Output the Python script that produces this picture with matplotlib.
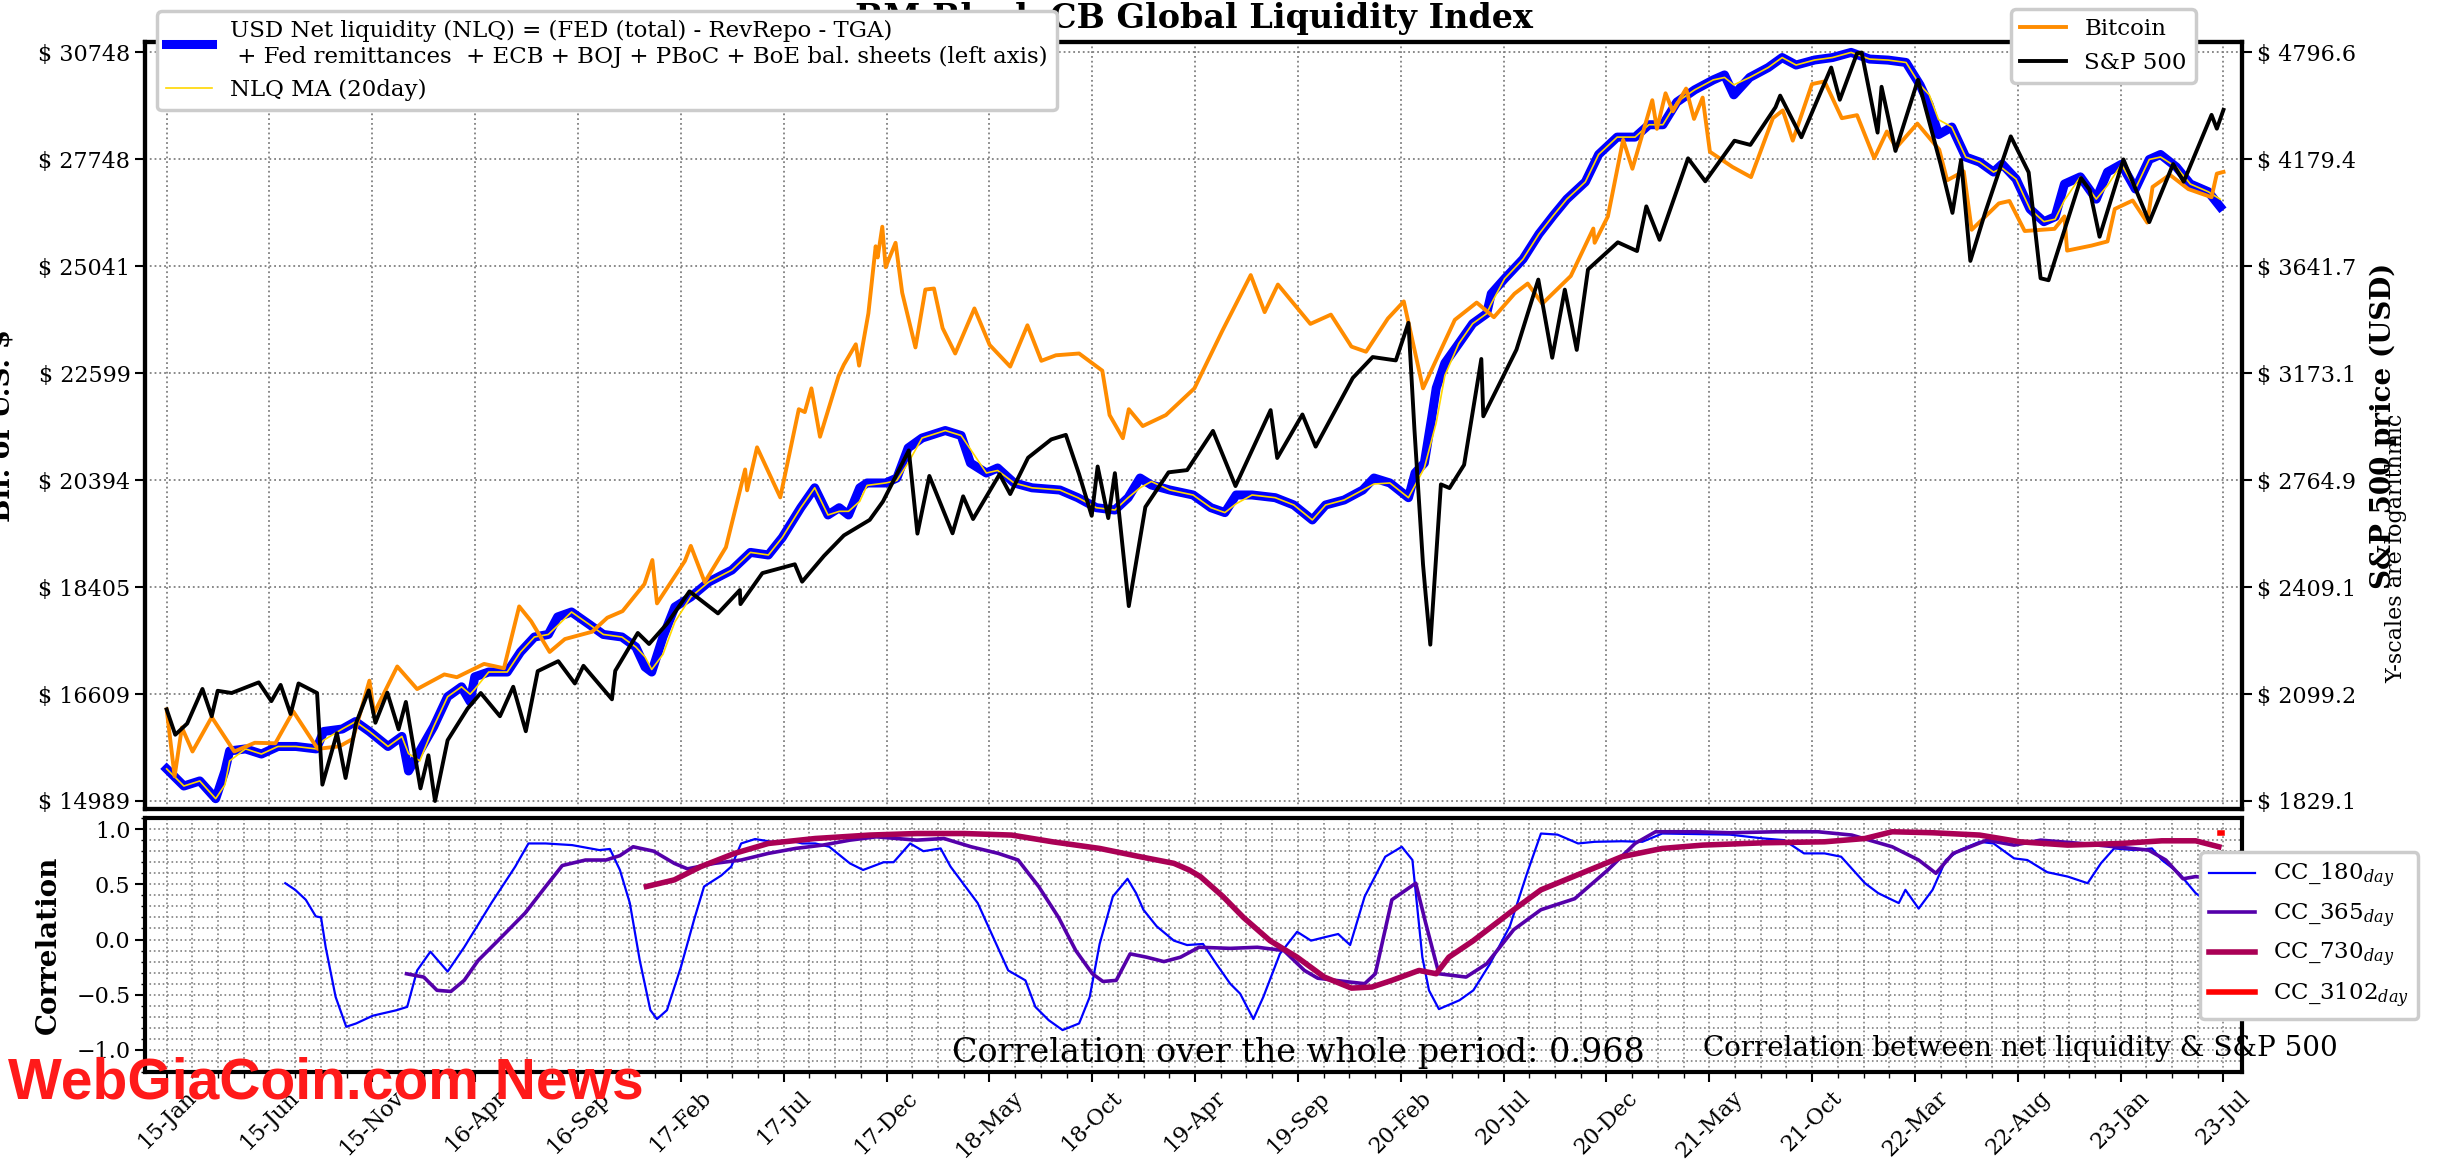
import numpy as np
import pandas as pd
import matplotlib
matplotlib.use("Agg")
from matplotlib import pyplot as plt
import matplotlib.dates as mdates
from matplotlib.ticker import FixedLocator, NullLocator, AutoMinorLocator, FuncFormatter

plt.rcParams['font.family'] = 'DejaVu Serif'
plt.rcParams['font.size'] = 16
plt.rcParams['mathtext.fontset'] = 'dejavuserif'
plt.rcParams['axes.linewidth'] = 3

start = pd.Timestamp('2015-01-02')
end = pd.Timestamp('2023-07-03')

# USD net liquidity (bil. $), days counted from start
nlq_days = [0, 26, 50, 74, 88, 95, 119, 143, 168, 195, 226, 237, 265, 285, 306, 334, 355, 365,
            382, 403, 424, 445, 458, 465, 486, 514, 534, 555, 576, 590, 611, 638, 659, 687,
            708, 722, 732, 749, 767, 791, 818, 853, 881, 908, 929, 957, 978, 998, 1015, 1029,
            1046, 1057, 1085, 1102, 1119, 1140, 1175, 1199, 1213, 1237, 1254, 1279, 1306, 1348,
            1375, 1403, 1431, 1451, 1469, 1486, 1514, 1549, 1576, 1597, 1614, 1638, 1673, 1701,
            1729, 1749, 1777, 1805, 1822, 1846, 1874, 1884, 1898, 1909, 1916, 1929, 1950, 1971,
            1992, 1999, 2019, 2047, 2071, 2093, 2113, 2141, 2161, 2189, 2216, 2237, 2258, 2279,
            2306, 2334, 2351, 2365, 2389, 2417, 2438, 2459, 2487, 2514, 2542, 2570, 2598, 2625,
            2646, 2660, 2674, 2694, 2715, 2736, 2757, 2770, 2791, 2812, 2833, 2850, 2864, 2888,
            2912, 2929, 2950, 2971, 2992, 3009, 3033, 3054, 3081, 3099]
nlq_vals = [15458, 15206, 15280, 15022, 15427, 15726, 15757, 15680, 15794, 15794, 15757, 16023,
            16061, 16176, 16023, 15794, 15947, 15427, 15726, 16098, 16567, 16725, 16488, 16886,
            16964, 16964, 17293, 17544, 17587, 17885, 17970, 17755, 17587, 17544, 17377, 17046,
            16964, 17544, 18057, 18231, 18495, 18709, 19028, 18981, 19301, 19862, 20245, 19724,
            19862, 19724, 20245, 20339, 20339, 20436, 21034, 21236, 21389, 21287, 20733, 20535,
            20634, 20339, 20245, 20202, 20054, 19862, 19818, 20054, 20436, 20300, 20202, 20106,
            19862, 19769, 20106, 20106, 20054, 19914, 19630, 19914, 20010, 20202, 20436, 20339,
            20054, 20535, 20733, 21647, 22281, 22819, 23252, 23701, 23929, 24389, 24742, 25217,
            25830, 26300, 26709, 27154, 27878, 28347, 28347, 28686, 28686, 29315, 29663, 29947,
            30090, 29521, 30018, 30305, 30597, 30378, 30525, 30597, 30748, 30552, 30522, 30452,
            29804, 29239, 28416, 28622, 27809, 27676, 27412, 27623, 27229, 26456, 26137, 26262,
            27099, 27286, 26709, 27412, 27617, 26970, 27745, 27878, 27544, 27099, 26899, 26514]

sp_dates = ['2015-01-02', '2015-01-15', '2015-02-02', '2015-02-25', '2015-03-11', '2015-03-20',
            '2015-04-10', '2015-05-21', '2015-06-09', '2015-06-23', '2015-07-08', '2015-07-20',
            '2015-08-17', '2015-08-25', '2015-09-16', '2015-09-29', '2015-10-15', '2015-11-03',
            '2015-11-13', '2015-12-01', '2015-12-18', '2015-12-29', '2016-01-20', '2016-02-01',
            '2016-02-11', '2016-03-01', '2016-03-31', '2016-04-20', '2016-05-19', '2016-06-08',
            '2016-06-27', '2016-07-15', '2016-08-15', '2016-09-09', '2016-09-22', '2016-11-04',
            '2016-11-09', '2016-12-13', '2016-12-30', '2017-01-26', '2017-03-01', '2017-04-13',
            '2017-05-16', '2017-05-17', '2017-06-19', '2017-08-07', '2017-08-18', '2017-09-20',
            '2017-10-20', '2017-11-28', '2017-12-18', '2018-01-26', '2018-02-08', '2018-02-26',
            '2018-04-02', '2018-04-18', '2018-05-03', '2018-06-12', '2018-06-28', '2018-07-25',
            '2018-08-29', '2018-09-20', '2018-10-10', '2018-10-29', '2018-11-07', '2018-11-23',
            '2018-12-03', '2018-12-24', '2019-01-18', '2019-02-22', '2019-03-22', '2019-04-30',
            '2019-06-03', '2019-07-26', '2019-08-05', '2019-09-12', '2019-10-02', '2019-11-27',
            '2019-12-27', '2020-01-31', '2020-02-19', '2020-02-28', '2020-03-12', '2020-03-16',
            '2020-03-23', '2020-04-08', '2020-04-21', '2020-05-13', '2020-06-08', '2020-06-11',
            '2020-07-31', '2020-09-02', '2020-09-23', '2020-10-12', '2020-10-30', '2020-11-16',
            '2020-12-31', '2021-01-29', '2021-02-12', '2021-03-04', '2021-04-16', '2021-05-12',
            '2021-06-25', '2021-07-19', '2021-08-26', '2021-09-02', '2021-10-04', '2021-11-18',
            '2021-12-01', '2021-12-27', '2022-01-03', '2022-01-27', '2022-02-02', '2022-02-23',
            '2022-03-29', '2022-05-02', '2022-05-20', '2022-06-02', '2022-06-16', '2022-07-08',
            '2022-08-16', '2022-09-12', '2022-09-30', '2022-10-12', '2022-11-30', '2022-12-13',
            '2022-12-28', '2023-02-02', '2023-03-13', '2023-04-18', '2023-05-04', '2023-06-15',
            '2023-06-23', '2023-07-03']
sp_vals = [2058, 1992, 2021, 2113, 2040, 2108, 2102, 2131, 2080, 2124, 2046, 2128, 2102, 1868,
           1996, 1884, 2023, 2109, 2023, 2103, 2006, 2078, 1859, 1940, 1829, 1978, 2060, 2102,
           2040, 2119, 2001, 2162, 2190, 2128, 2177, 2085, 2163, 2271, 2239, 2298, 2396, 2329,
           2400, 2357, 2453, 2481, 2426, 2508, 2575, 2627, 2690, 2873, 2581, 2780, 2582, 2708,
           2630, 2786, 2716, 2846, 2914, 2931, 2786, 2641, 2814, 2633, 2790, 2351, 2671, 2793,
           2801, 2946, 2744, 3026, 2845, 3009, 2887, 3154, 3240, 3226, 3386, 2954, 2481, 2386,
           2237, 2750, 2737, 2820, 3232, 3002, 3271, 3580, 3237, 3534, 3270, 3627, 3756, 3714,
           3934, 3768, 4185, 4063, 4281, 4258, 4470, 4537, 4300, 4704, 4513, 4791, 4796, 4326,
           4589, 4225, 4631, 4155, 3901, 4176, 3667, 3899, 4305, 4110, 3586, 3577, 4080, 4019,
           3783, 4179, 3855, 4154, 4061, 4426, 4348, 4455]

btc_dates = ['2015-01-02', '2015-01-14', '2015-01-25', '2015-02-10', '2015-03-11', '2015-04-14',
             '2015-05-15', '2015-06-15', '2015-07-12', '2015-08-18', '2015-09-20', '2015-10-10',
             '2015-11-04', '2015-11-11', '2015-12-16', '2016-01-15', '2016-02-25', '2016-03-15',
             '2016-04-25', '2016-05-25', '2016-06-17', '2016-07-05', '2016-08-02', '2016-08-25',
             '2016-10-05', '2016-10-28', '2016-11-20', '2016-12-23', '2017-01-04', '2017-01-11',
             '2017-02-22', '2017-03-03', '2017-03-24', '2017-04-25', '2017-05-24', '2017-05-27',
             '2017-06-11', '2017-07-16', '2017-08-13', '2017-08-22', '2017-09-01', '2017-09-14',
             '2017-10-12', '2017-10-20', '2017-11-07', '2017-11-12', '2017-11-26', '2017-12-07',
             '2017-12-10', '2017-12-17', '2017-12-22', '2018-01-06', '2018-01-16', '2018-02-05',
             '2018-02-20', '2018-03-05', '2018-03-18', '2018-04-06', '2018-05-05', '2018-05-28',
             '2018-06-28', '2018-07-24', '2018-08-14', '2018-09-05', '2018-10-10', '2018-11-14',
             '2018-11-25', '2018-12-15', '2018-12-24', '2019-01-14', '2019-02-18', '2019-04-02',
             '2019-05-14', '2019-06-26', '2019-07-17', '2019-08-06', '2019-09-24', '2019-10-25',
             '2019-11-25', '2019-12-17', '2020-01-19', '2020-02-12', '2020-03-12', '2020-04-29',
             '2020-06-01', '2020-06-27', '2020-07-28', '2020-08-17', '2020-09-08', '2020-10-21',
             '2020-11-24', '2020-11-26', '2020-12-16', '2021-01-08', '2021-01-22', '2021-02-21',
             '2021-02-28', '2021-03-13', '2021-03-24', '2021-04-13', '2021-04-25', '2021-05-08',
             '2021-05-19', '2021-06-22', '2021-07-20', '2021-08-22', '2021-09-06', '2021-09-21',
             '2021-10-20', '2021-11-08', '2021-12-04', '2021-12-27', '2022-01-22', '2022-02-10',
             '2022-02-24', '2022-03-28', '2022-04-30', '2022-05-12', '2022-06-06', '2022-06-18',
             '2022-07-29', '2022-08-14', '2022-09-06', '2022-10-21', '2022-11-05', '2022-11-09',
             '2022-12-16', '2023-01-09', '2023-01-20', '2023-02-16', '2023-03-10', '2023-03-18',
             '2023-04-13', '2023-05-11', '2023-06-15', '2023-06-23', '2023-07-03']
btc_vals = [315, 178, 270, 220, 295, 220, 237, 236, 310, 225, 230, 245, 403, 305, 455, 375, 425,
            415, 465, 448, 760, 670, 515, 575, 612, 690, 730, 920, 1130, 780, 1120, 1275, 935,
            1260, 2450, 2050, 2960, 1930, 4100, 4000, 4900, 3240, 5440, 6000, 7140, 5950, 9300,
            16500, 15000, 19500, 13800, 17000, 11100, 6950, 11400, 11500, 8200, 6600, 9700, 7100,
            5900, 8400, 6200, 6500, 6600, 5700, 3900, 3200, 4100, 3550, 3900, 4900, 8000, 12900,
            9400, 11900, 8500, 9200, 7000, 6700, 8900, 10300, 4900, 8800, 10200, 9000, 11000,
            12000, 10100, 12800, 19200, 17000, 21300, 41000, 32000, 57500, 45000, 61000, 52300,
            63500, 49000, 58800, 37000, 32500, 29800, 49300, 52700, 40700, 66000, 67500, 49300,
            50600, 35000, 44000, 38300, 47100, 37700, 29000, 31300, 19000, 23800, 24300, 18800,
            19150, 21300, 15900, 16600, 17200, 22700, 24400, 20200, 27400, 30400, 26900, 25100,
            30700, 31150]

# rolling correlation of net liquidity vs S&P 500
cc180_days = [179, 194, 210, 225, 233, 240, 255, 271, 286, 311, 347, 363, 378, 398, 424, 449, 490,
              526, 546, 572, 612, 653, 669, 684, 699, 714, 730, 740, 755, 776, 796, 811, 837, 852,
              867, 888, 913, 939, 959, 979, 1000, 1031, 1051, 1082, 1097, 1122, 1142, 1168, 1183,
              1224, 1270, 1296, 1311, 1331, 1352, 1377, 1393, 1408, 1428, 1450, 1463, 1474, 1494,
              1520, 1540, 1564, 1584, 1605, 1620, 1640, 1655, 1680, 1706, 1727, 1747, 1768, 1786,
              1808, 1839, 1864, 1880, 1895, 1905, 1920, 1951, 1972, 1997, 2027, 2053, 2074, 2099,
              2130, 2155, 2196, 2227, 2257, 2308, 2359, 2410, 2441, 2471, 2502, 2527, 2548, 2563,
              2583, 2614, 2624, 2644, 2665, 2685, 2706, 2736, 2757, 2788, 2808, 2838, 2869, 2899,
              2919, 2939, 2970, 2996, 3011, 3037, 3062, 3090]
cc180_vals = [0.51, 0.45, 0.36, 0.21, 0.2, -0.07, -0.52, -0.79, -0.76, -0.69, -0.64, -0.61, -0.28,
              -0.11, -0.29, -0.07, 0.33, 0.66, 0.87, 0.87, 0.855, 0.81, 0.82, 0.63, 0.33, -0.19,
              -0.64, -0.72, -0.64, -0.25, 0.18, 0.48, 0.58, 0.66, 0.87, 0.91, 0.885, 0.9, 0.87,
              0.87, 0.84, 0.69, 0.63, 0.7, 0.7, 0.87, 0.8, 0.825, 0.66, 0.33, -0.28, -0.37, -0.61,
              -0.73, -0.82, -0.76, -0.52, -0.04, 0.39, 0.55, 0.42, 0.27, 0.12, -0.01, -0.05, -0.04,
              -0.22, -0.4, -0.49, -0.72, -0.52, -0.13, 0.07, -0.01, 0.02, 0.05, -0.05, 0.39, 0.75,
              0.84, 0.72, -0.16, -0.46, -0.63, -0.55, -0.46, -0.22, 0.12, 0.6, 0.96, 0.95, 0.87,
              0.885, 0.89, 0.885, 0.96, 0.955, 0.95, 0.915, 0.9, 0.78, 0.78, 0.75, 0.61, 0.51, 0.42,
              0.33, 0.45, 0.28, 0.45, 0.72, 0.81, 0.885, 0.87, 0.735, 0.72, 0.61, 0.57, 0.51, 0.69,
              0.825, 0.81, 0.825, 0.72, 0.6, 0.42, 0.3]
cc365_days = [362, 388, 408, 429, 449, 470, 500, 541, 572, 597, 632, 663, 684, 704, 735, 766, 786,
              827, 867, 908, 949, 990, 1031, 1071, 1132, 1173, 1214, 1255, 1285, 1316, 1346, 1372,
              1397, 1413, 1433, 1454, 1479, 1505, 1530, 1558, 1605, 1646, 1686, 1717, 1737, 1778,
              1808, 1824, 1849, 1885, 1900, 1920, 1961, 1992, 2033, 2074, 2125, 2175, 2216, 2247,
              2308, 2359, 2430, 2492, 2543, 2604, 2644, 2670, 2696, 2747, 2788, 2828, 2889, 2940,
              2991, 3017, 3043, 3062, 3090]
cc365_vals = [-0.31, -0.34, -0.46, -0.47, -0.37, -0.19, -0.01, 0.24, 0.48, 0.67, 0.72, 0.72, 0.76,
              0.84, 0.8, 0.69, 0.64, 0.69, 0.72, 0.78, 0.825, 0.855, 0.9, 0.93, 0.9, 0.915, 0.84,
              0.78, 0.72, 0.48, 0.2, -0.1, -0.31, -0.38, -0.37, -0.13, -0.16, -0.2, -0.16, -0.07,
              -0.08, -0.07, -0.1, -0.28, -0.35, -0.38, -0.4, -0.31, 0.36, 0.51, 0.15, -0.31, -0.34,
              -0.22, 0.09, 0.27, 0.37, 0.63, 0.87, 0.976, 0.976, 0.967, 0.976, 0.976, 0.946, 0.84,
              0.72, 0.6, 0.78, 0.9, 0.855, 0.9, 0.87, 0.84, 0.81, 0.72, 0.55, 0.57, 0.55]
cc730_days = [724, 766, 806, 857, 908, 979, 1061, 1132, 1204, 1275, 1337, 1408, 1469, 1520, 1543,
              1560, 1594, 1625, 1665, 1706, 1747, 1788, 1819, 1849, 1890, 1916, 1935, 1972, 2033,
              2074, 2135, 2196, 2257, 2318, 2410, 2502, 2563, 2604, 2665, 2736, 2797, 2869, 2950,
              3011, 3062, 3097]
cc730_vals = [0.48, 0.54, 0.66, 0.78, 0.87, 0.915, 0.946, 0.96, 0.96, 0.946, 0.885, 0.825, 0.75,
              0.69, 0.63, 0.57, 0.39, 0.2, -0.01, -0.16, -0.34, -0.44, -0.43, -0.37, -0.28, -0.31,
              -0.16, -0.01, 0.27, 0.45, 0.6, 0.75, 0.825, 0.855, 0.876, 0.885, 0.915, 0.976, 0.967,
              0.946, 0.885, 0.855, 0.87, 0.894, 0.894, 0.84]
cc3102_days = [3099, 3102]
cc3102_vals = [0.968, 0.968]

nlq_ticks = [14989, 16609, 18405, 20394, 22599, 25041, 27748, 30748]
sp_ticks = [1829.1, 2099.2, 2409.1, 2764.9, 3173.1, 3641.7, 4179.4, 4796.6]

title = 'BM Black CB Global Liquidity Index'
nlq_label = ('USD Net liquidity (NLQ) = (FED (total) - RevRepo - TGA)\n'
             ' + Fed remittances  + ECB + BOJ + PBoC + BoE bal. sheets (left axis)')


def to_dates(days):
    return start + pd.to_timedelta(days, unit='D')


nlq = pd.Series(nlq_vals, index=to_dates(nlq_days))
nlq_ma = nlq.rolling('20D').mean()

fig = plt.figure(figsize=(24.38, 11.65), dpi=100)
ax1 = fig.add_axes([0.0595, 0.3056, 0.8601, 0.6584])
axb = fig.add_axes([0.0595, 0.0798, 0.8601, 0.2180], sharex=ax1)

l_nlq, = ax1.plot(nlq.index, nlq.values, color='blue', lw=6.5, label=nlq_label)
l_ma, = ax1.plot(nlq_ma.index, nlq_ma.values, color='gold', lw=1.2, label='NLQ MA (20day)')
ax1.set_yscale('log')
ax1.set_ylim(nlq_ticks[0] * 0.99235, nlq_ticks[-1] * 1.0101)
ax1.yaxis.set_major_locator(FixedLocator(nlq_ticks))
ax1.yaxis.set_minor_locator(NullLocator())
ax1.yaxis.set_major_formatter(FuncFormatter(lambda v, p: '$ %d' % round(v)))
ax1.set_ylabel('Bil. of U.S. $', fontsize=20, fontweight='bold')
ax1.yaxis.set_label_coords(-0.062, 0.5)
ax1.set_title(title, fontsize=24, fontweight='bold', pad=10)
ax1.grid(True, which='major', linestyle=':', color='gray', linewidth=1.3)
ax1.tick_params(axis='y', which='major', direction='out', length=7, width=1.5, labelsize=16)
ax1.tick_params(axis='x', which='both', length=0, labelbottom=False)

ax3 = ax1.twinx()
l_btc, = ax3.plot(pd.to_datetime(btc_dates), btc_vals, color='darkorange', lw=2.8, label='Bitcoin')
ax3.set_yscale('log')
ax3.set_ylim(134.6, 94600)
ax3.set_axis_off()

ax2 = ax1.twinx()
l_sp, = ax2.plot(pd.to_datetime(sp_dates), sp_vals, color='black', lw=2.8, label='S&P 500')
ax2.set_yscale('log')
ax2.set_ylim(sp_ticks[0] * 0.98976, sp_ticks[-1] * 1.0136)
ax2.yaxis.set_major_locator(FixedLocator(sp_ticks))
ax2.yaxis.set_minor_locator(NullLocator())
ax2.yaxis.set_major_formatter(FuncFormatter(lambda v, p: '$ %.1f' % v))
ax2.tick_params(axis='y', which='major', direction='out', length=7, width=1.5, labelsize=16)
ax2.set_ylabel('S&P 500 price (USD)', fontsize=20, fontweight='bold')
ax2.yaxis.set_label_coords(1.061, 0.5)

leg1 = ax2.legend(handles=[l_nlq, l_ma], loc='upper left', bbox_to_anchor=(0.0057, 1.0404),
                  borderaxespad=0, fontsize=16.5, framealpha=1)
leg1.get_frame().set_linewidth(2.5)
ax2.add_artist(leg1)
leg2 = ax2.legend(handles=[l_btc, l_sp], loc='upper right', bbox_to_anchor=(0.978, 1.043),
                  borderaxespad=0, fontsize=16.5, framealpha=1)
leg2.get_frame().set_linewidth(2.5)

fig.text(0.983, 0.5296, 'Y-scales are logarithmic', rotation=90, fontsize=16,
         ha='center', va='center')

# correlation panel
cc_colors = [(0, 0, 1), (1 / 3, 0, 2 / 3), (2 / 3, 0, 1 / 3), (1, 0, 0)]
h1, = axb.plot(to_dates(cc180_days), cc180_vals, color=cc_colors[0], lw=1.6)
h2, = axb.plot(to_dates(cc365_days), cc365_vals, color=cc_colors[1], lw=2.6)
h3, = axb.plot(to_dates(cc730_days), cc730_vals, color=cc_colors[2], lw=4)
h4, = axb.plot(to_dates(cc3102_days), cc3102_vals, color=cc_colors[3], lw=4)
axb.set_ylim(-1.2, 1.1)
axb.set_yticks([-1.0, -0.5, 0.0, 0.5, 1.0])
axb.yaxis.set_minor_locator(AutoMinorLocator(5))
axb.xaxis.set_minor_locator(AutoMinorLocator(4))
axb.grid(True, which='both', linestyle=':', color='gray', linewidth=1.2)
axb.set_ylabel('Correlation', fontsize=20, fontweight='bold')
axb.yaxis.set_label_coords(-0.0396, 0.5)
leg3 = axb.legend([h1, h2, h3, h4],
                  [r'CC_180$_{day}$', r'CC_365$_{day}$', r'CC_730$_{day}$', r'CC_3102$_{day}$'],
                  loc='upper left', bbox_to_anchor=(0.98, 0.866), borderaxespad=0,
                  fontsize=16.5, framealpha=1)
leg3.get_frame().set_linewidth(2.5)
axb.text(0.385, 0.04, 'Correlation over the whole period: 0.968', transform=axb.transAxes,
         fontsize=24, va='baseline')
axb.text(0.743, 0.063, 'Correlation between net liquidity & S&P 500', transform=axb.transAxes,
         fontsize=20, va='baseline')

t0 = mdates.date2num(start)
t1 = mdates.date2num(end)
axb.set_xticks(np.linspace(t0, t1, 21))
axb.xaxis.set_major_formatter(mdates.DateFormatter('%y-%b'))
axb.set_xlim(t0 - 0.0105 * (t1 - t0), t1 + 0.009 * (t1 - t0))
axb.tick_params(axis='x', which='major', direction='out', length=7, width=1.5, labelsize=16,
                labelrotation=45)
axb.tick_params(axis='x', which='minor', direction='out', length=4, width=1)
axb.tick_params(axis='y', which='major', direction='out', length=7, width=1.5, labelsize=16)
axb.tick_params(axis='y', which='minor', direction='out', length=3, width=1)

fig.text(0.0033, 0.0575, 'WebGiaCoin.com News', color='#ff1a1a', fontsize=41,
         fontweight='bold', family=['Liberation Sans', 'DejaVu Sans'],
         va='baseline', zorder=10)

fig.savefig('out.png', dpi=100, facecolor='white')
